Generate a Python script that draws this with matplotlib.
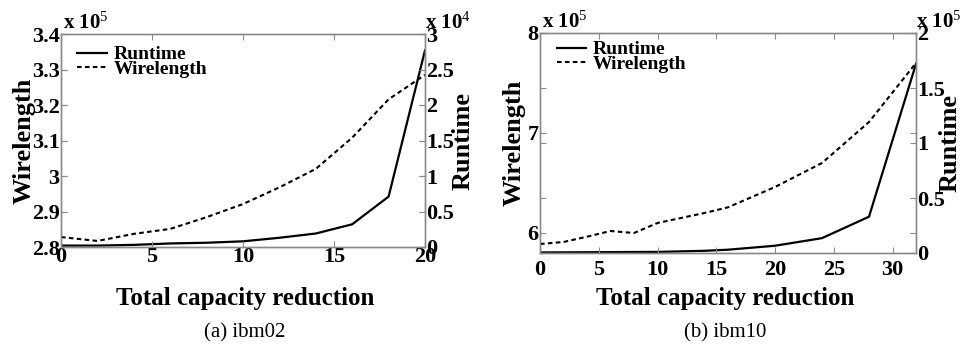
import matplotlib
matplotlib.use("Agg")
import matplotlib.pyplot as plt
from matplotlib.ticker import FixedLocator, FixedFormatter

# ---------------- data ----------------
# (a) ibm02
x_a = [0, 2, 4, 6, 8, 10, 12, 14, 16, 18, 20]
wl_a = [2.828, 2.817, 2.837, 2.851, 2.884, 2.921, 2.968, 3.020, 3.108, 3.216, 3.285]   # x 10^5
rt_a = [0.02, 0.02, 0.03, 0.05, 0.06, 0.08, 0.13, 0.19, 0.32, 0.71, 2.77]              # x 10^4

# (b) ibm10
x_b = [0, 2, 4, 6, 8, 10, 12, 14, 16, 20, 24, 28, 32]
wl_b = [5.89, 5.91, 5.963, 6.02, 6.0, 6.10, 6.15, 6.20, 6.257, 6.46, 6.70, 7.11, 7.70]  # x 10^5
rt_b = [0.005, 0.006, 0.007, 0.008, 0.009, 0.01, 0.015, 0.02, 0.03, 0.066, 0.135, 0.33, 1.72]  # x 10^5

xticks_a = [0, 5, 10, 15, 20]
xticks_b = [0, 5, 10, 15, 20, 25, 30]
wl_ticks_a = [2.8, 2.9, 3.0, 3.1, 3.2, 3.3, 3.4]
wl_labels_a = ["2.8", "2.9", "3", "3.1", "3.2", "3.3", "3.4"]
rt_ticks_a = [0, 0.5, 1, 1.5, 2, 2.5, 3]
rt_labels_a = ["0", "0.5", "1", "1.5", "2", "2.5", "3"]
wl_ticks_b = [6, 7, 8]
wl_labels_b = ["6", "7", "8"]
rt_ticks_b = [0, 0.5, 1, 1.5, 2]
rt_labels_b = ["0", "0.5", "1", "1.5", "2"]

# ---------------- style ----------------
plt.rcParams["font.family"] = ["Liberation Serif", "DejaVu Serif"]
plt.rcParams["mathtext.fontset"] = "custom"
plt.rcParams["mathtext.rm"] = "Liberation Serif"
plt.rcParams["mathtext.default"] = "rm"

SPINE = "#8a8a8a"
TICKFS = 16
LABFS = 19

fig = plt.figure(figsize=(9.6, 3.48), dpi=100)

def panel(rect, x, wl, rt, xlim, wlim, rlim, xt, wt, wtl, rtk, rtl,
          xpad, wexp, rexp, ylab_l, ylab_r, caption_x, legend_anchor):
    ax = fig.add_axes(rect)
    ax2 = ax.twinx()
    l_wl, = ax.plot(x, wl, color="black", lw=1.5, ls=(0, (2.2, 1.6)))
    l_rt, = ax2.plot(x, rt, color="black", lw=1.6)
    ax.set_xlim(*xlim)
    ax.set_ylim(*wlim)
    ax2.set_ylim(*rlim)
    ax.set_xticks(xt)
    ax.set_xticklabels([str(v) for v in xt])
    ax.yaxis.set_major_locator(FixedLocator(wt))
    ax.yaxis.set_major_formatter(FixedFormatter(wtl))
    ax2.yaxis.set_major_locator(FixedLocator(rtk))
    ax2.yaxis.set_major_formatter(FixedFormatter(rtl))
    for a in (ax, ax2):
        for s in a.spines.values():
            s.set_color(SPINE)
            s.set_linewidth(1.0)
    ax.tick_params(axis="x", direction="in", top=True, length=4, color=SPINE,
                   labelsize=TICKFS, pad=xpad)
    ax.tick_params(axis="y", direction="in", right=True, length=4, color=SPINE,
                   labelsize=TICKFS, pad=1)
    ax2.tick_params(axis="y", direction="in", left=True, length=4, color=SPINE,
                    labelsize=TICKFS, pad=1)
    for lab in ax.get_xticklabels() + ax.get_yticklabels() + ax2.get_yticklabels():
        lab.set_fontweight("bold")
    ax.set_ylabel("Wirelength", fontsize=LABFS, fontweight="bold")
    ax2.set_ylabel("Runtime", fontsize=LABFS, fontweight="bold")
    ax.yaxis.set_label_coords(ylab_l, 0.5)
    ax2.yaxis.set_label_coords(ylab_r, 0.5)
    ax.set_zorder(ax2.get_zorder() + 1)
    ax.patch.set_visible(False)
    # exponent labels
    ax.text(0.005, 1.0, r"x 10$^{%s}$" % wexp, transform=ax.transAxes,
            fontsize=15, fontweight="bold", ha="left", va="bottom")
    ax.text(1.0, 1.0, r"x 10$^{%s}$" % rexp, transform=ax.transAxes,
            fontsize=15, fontweight="bold", ha="left", va="bottom")
    ax.legend([l_rt, l_wl], ["Runtime", "Wirelength"], loc="upper left",
              bbox_to_anchor=legend_anchor, frameon=False,
              prop={"family": "Liberation Serif", "weight": "bold", "size": 14},
              handlelength=1.5, handletextpad=0.35, labelspacing=-0.15,
              borderaxespad=0, borderpad=0)
    fig.text(caption_x, 1 - 298 / 348, "Total capacity reduction", ha="center",
             va="center", fontsize=18, fontweight="bold")
    return ax, ax2

panel([61 / 960, 1 - 247 / 348, 364 / 960, 213 / 348], x_a, wl_a, rt_a,
      (0, 20), (2.8, 3.4), (0, 3), xticks_a, wl_ticks_a, wl_labels_a,
      rt_ticks_a, rt_labels_a, 0, 5, 4, -0.069, 1.072, 245 / 960,
      (0.045, 0.945))
panel([540 / 960, 1 - 253 / 348, 376 / 960, 220 / 348], x_b, wl_b, rt_b,
      (0, 32), (5.8, 8), (0, 2), xticks_b, wl_ticks_b, wl_labels_b,
      rt_ticks_b, rt_labels_b, 5, 5, 5, -0.037, 1.061, 725 / 960,
      (0.045, 0.965))

fig.text(245 / 960, 1 - 333 / 348, "(a) ibm02", ha="center", va="center", fontsize=15)
fig.text(725 / 960, 1 - 333 / 348, "(b) ibm10", ha="center", va="center", fontsize=15)

fig.savefig("out.png", dpi=100, facecolor="white")
